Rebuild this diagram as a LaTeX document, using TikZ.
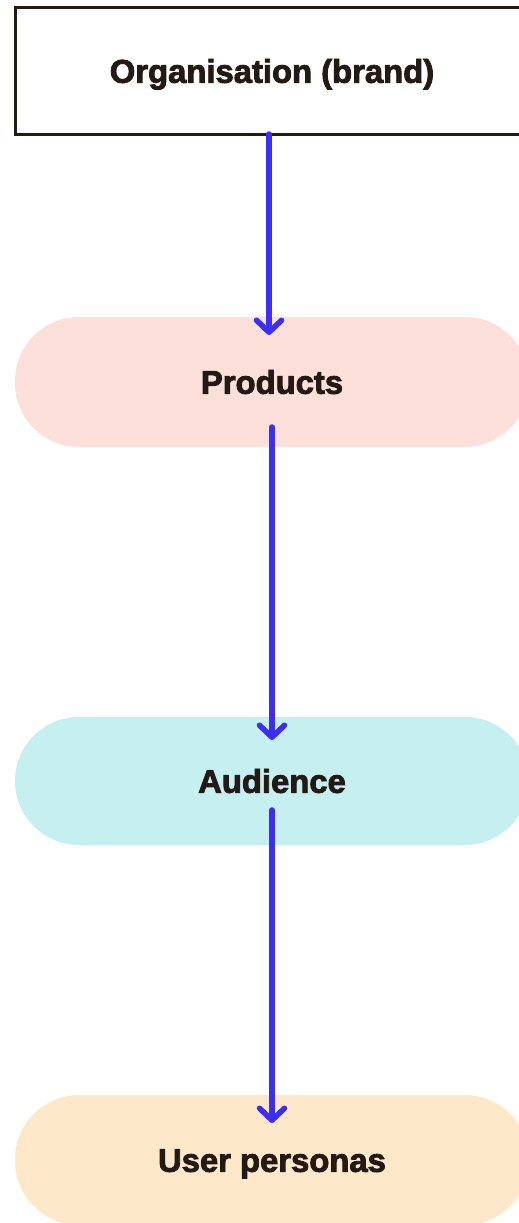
\documentclass[tikz,border=0pt]{standalone}
\usepackage{xcolor}
\usepackage{fontspec}
\setmainfont{Liberation Sans}[BoldFeatures={FakeBold=2.6}]
\usepackage{tikz}
\usetikzlibrary{arrows.meta,positioning}

\definecolor{inkdark}{HTML}{231A15}
\definecolor{flowblue}{HTML}{3A2DFF}
\definecolor{prodfill}{HTML}{FDE0DA}
\definecolor{audfill}{HTML}{C6EFF0}
\definecolor{userfill}{HTML}{FDE9C9}

\begin{document}
\begin{tikzpicture}[x=1pt,y=1pt,
    >={Straight Barb[length=12pt,width=25pt,line cap=round,line join=round]},
    flow/.style={->,draw=flowblue,line width=5.5pt,line cap=round},
    box text/.style={font=\bfseries\fontsize{32.8}{38}\selectfont,text=inkdark,
                     text height=23.5pt,text depth=0pt,outer sep=0pt},
    org node/.style={box text,rectangle,draw=inkdark,line width=3pt,fill=white,
                     minimum width=514pt,minimum height=126pt},
    pill node/.style={box text,rectangle,rounded corners=64pt,
                      minimum width=514pt,minimum height=130pt}]

  \useasboundingbox (0,0) rectangle (519,-1223);

  \node[org node] (org) at (272,-71) {Organisation (brand)};
  \node[pill node,fill=prodfill] (prod) [below=183pt of org] {Products};
  \node[pill node,fill=audfill,minimum height=128pt] (aud) [below=270pt of prod] {Audience};
  \node[pill node,fill=userfill] (user) [below=250pt of aud] {User personas};

  \draw[flow] ([xshift=-3pt]org.south) -- ([xshift=-3pt,yshift=-18pt]prod.north);
  \draw[flow] ([yshift=20pt]prod.south) -- ([yshift=-23pt]aud.north);
  \draw[flow] ([yshift=35pt]aud.south) -- ([yshift=-28pt]user.north);
\end{tikzpicture}
\end{document}
